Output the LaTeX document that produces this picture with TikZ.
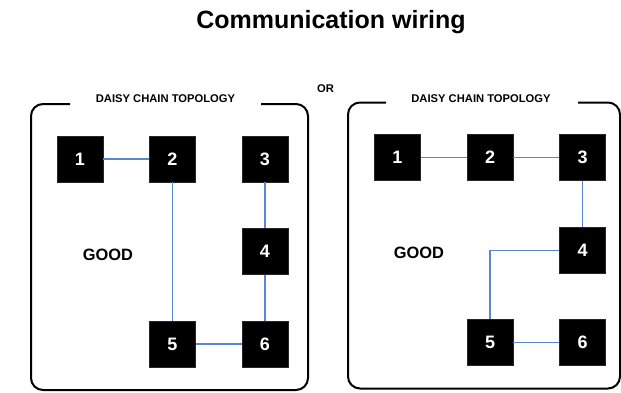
\documentclass[tikz,border=0pt]{standalone}
\usepackage{fontspec}
\setmainfont{Liberation Sans}
\begin{document}
\begin{tikzpicture}[x=1pt,y=-1pt,
  unit/.style={fill=black, draw=black!85, line width=0.6pt, minimum width=46pt, minimum height=46pt,
    inner sep=0pt, text=white, font=\fontsize{18}{18}\selectfont\bfseries},
  wire/.style={draw=wireblue, line width=1.3pt},
  frame/.style={draw=black, line width=2pt, rounded corners=12pt},
  heading/.style={font=\fontsize{11.2}{12}\selectfont\bfseries, inner sep=0pt},
  verdict/.style={font=\fontsize{16.4}{17}\selectfont\bfseries, inner sep=0pt}]
\definecolor{wireblue}{HTML}{5B87CF}
\useasboundingbox (0,0) rectangle (621,392);

% title
\node[font=\fontsize{25}{26}\selectfont\bfseries, inner sep=0pt] (title) at (331,22) {Communication wiring};
\node[heading] (or) at (325.5,88.5) {OR};

% left panel
\draw[frame] (70,104) -- (31,104) -- (31,390) -- (308,390) -- (308,104) -- (261,104);
\node[heading] (lhead) at (165.5,99) {DAISY CHAIN TOPOLOGY};
\node[verdict] (lgood) at (108,255) {GOOD};
\node[unit] (l1) at (80,159) {1};
\node[unit] (l2) at (172.5,159) {2};
\node[unit] (l3) at (265,159) {3};
\node[unit] (l4) at (265,251.5) {4};
\node[unit] (l5) at (172.5,344) {5};
\node[unit] (l6) at (265,344) {6};
\draw[wire] (l1) -- (l2);
\draw[wire] (l2) -- (l5);
\draw[wire] (l3) -- (l4);
\draw[wire] (l4) -- (l6);
\draw[wire] (l5) -- (l6);

% right panel
\draw[frame] (386,102.5) -- (348,102.5) -- (348,388.5) -- (620,388.5) -- (620,102.5) -- (578,102.5);
\node[heading] (rhead) at (481,99) {DAISY CHAIN TOPOLOGY};
\node[verdict] (rgood) at (419,253) {GOOD};
\node[unit] (r1) at (397.5,157.5) {1};
\node[unit] (r2) at (490,157.5) {2};
\node[unit] (r3) at (582.5,157.5) {3};
\node[unit] (r4) at (582.5,250.5) {4};
\node[unit] (r5) at (490,342.5) {5};
\node[unit] (r6) at (582.5,342.5) {6};
\draw[wire] (r1) -- (r2);
\draw[wire] (r2) -- (r3);
\draw[wire] (r3) -- (r4);
\draw[wire] (r4.west) -| (r5.north);
\draw[wire] (r5) -- (r6);
\end{tikzpicture}
\end{document}
